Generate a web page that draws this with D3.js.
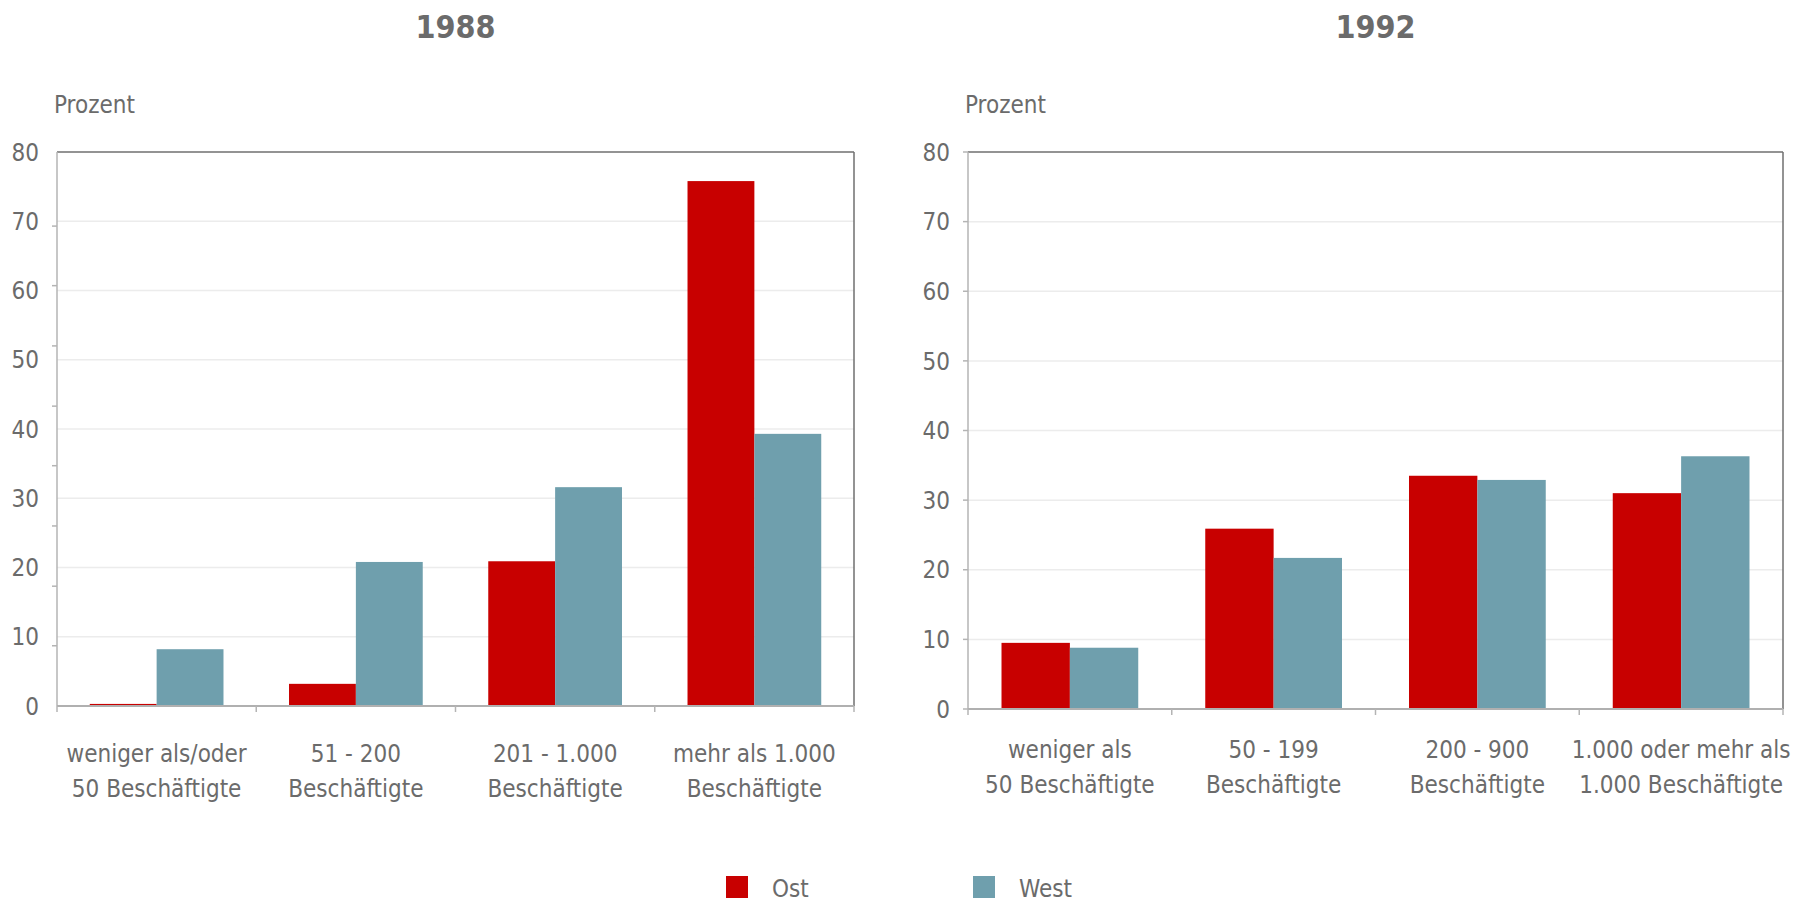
<!DOCTYPE html>
<html>
<head>
<meta charset="utf-8">
<script src="https://cdn.jsdelivr.net/npm/d3@7"></script>
<style>
  body { margin: 0; background: #fff; }
  text { font-family: "Liberation Sans Narrow", "DejaVu Sans Condensed", sans-serif; fill: #6b6b6b; }
</style>
</head>
<body>
<div id="chart"></div>
<script>
// data
var series = ["Ost", "West"];
var categories1988 = [["weniger als/oder", "50 Beschäftigte"], ["51 - 200", "Beschäftigte"], ["201 - 1.000", "Beschäftigte"], ["mehr als 1.000", "Beschäftigte"]];
var ost1988 = [0.3, 3.2, 20.9, 75.8];
var west1988 = [8.2, 20.8, 31.6, 39.3];
var categories1992 = [["weniger als", "50 Beschäftigte"], ["50 - 199", "Beschäftigte"], ["200 - 900", "Beschäftigte"], ["1.000 oder mehr als", "1.000 Beschäftigte"]];
var ost1992 = [9.5, 25.9, 33.5, 31.0];
var west1992 = [8.8, 21.7, 32.9, 36.3];
var yTicks = [0, 10, 20, 30, 40, 50, 60, 70, 80];
// the left panel's axis has its little tick marks off the grid
var yMarks1988 = [8.7, 17.3, 26, 34.7, 43.3, 52, 60.7, 69.3];

var WIDTH = 1793, HEIGHT = 904;
var color = d3.scaleOrdinal().domain(series).range(["#c80000", "#6f9fad"]);

var svg = d3.select("#chart").append("svg")
  .attr("width", WIDTH)
  .attr("height", HEIGHT);

function panel(opt) {
  var x = d3.scaleBand()
    .domain(d3.range(opt.cats.length))
    .range([opt.left, opt.right]);
  var xs = d3.scaleBand()
    .domain(series)
    .range([0, x.bandwidth()])
    .paddingOuter(0.49);
  var y = d3.scaleLinear().domain([0, 80]).range([opt.bottom, opt.top]);

  var g = svg.append("g");

  g.append("text")
    .attr("x", (opt.left + opt.right) / 2).attr("y", 38)
    .attr("text-anchor", "middle")
    .style("font-size", "32px").style("font-weight", "bold")
    .text(opt.title);

  g.append("text")
    .attr("x", opt.left - 3).attr("y", 113)
    .style("font-size", "24px")
    .text("Prozent");

  // grid
  g.selectAll(".grid").data(yTicks.slice(1, -1)).enter().append("line")
    .attr("x1", opt.left).attr("x2", opt.right)
    .attr("y1", function (d) { return y(d); })
    .attr("y2", function (d) { return y(d); })
    .style("stroke", "#ececec").style("stroke-width", 1.5);

  // y labels
  g.selectAll(".ylab").data(yTicks).enter().append("text")
    .attr("x", opt.left - 18)
    .attr("y", function (d) { return y(d); })
    .attr("dy", "0.36em")
    .attr("text-anchor", "end")
    .style("font-size", "24px")
    .text(function (d) { return d; });

  g.selectAll(".ymark").data(opt.marks).enter().append("line")
    .attr("x1", opt.left - 5).attr("x2", opt.left)
    .attr("y1", function (d) { return y(d); })
    .attr("y2", function (d) { return y(d); })
    .style("stroke", "#b4b4b4").style("stroke-width", 1.5);

  // bars
  var rows = opt.cats.map(function (c, i) {
    return { i: i, vals: [opt.ost[i], opt.west[i]] };
  });
  var grp = g.selectAll(".cat").data(rows).enter().append("g")
    .attr("transform", function (d) { return "translate(" + x(d.i) + ",0)"; });
  grp.selectAll("rect")
    .data(function (d) { return d.vals.map(function (v, k) { return { s: series[k], v: v }; }); })
    .enter().append("rect")
    .attr("x", function (d) { return xs(d.s); })
    .attr("width", xs.bandwidth())
    .attr("y", function (d) { return y(d.v); })
    .attr("height", function (d) { return y(0) - y(d.v); })
    .style("fill", function (d) { return color(d.s); });

  // frame
  g.append("line").attr("x1", opt.left).attr("x2", opt.right).attr("y1", opt.top).attr("y2", opt.top)
    .style("stroke", "#6f6f6f").style("stroke-width", 1.5);
  g.append("line").attr("x1", opt.right).attr("x2", opt.right).attr("y1", opt.top).attr("y2", opt.bottom)
    .style("stroke", "#6f6f6f").style("stroke-width", 1.5);
  g.append("line").attr("x1", opt.left).attr("x2", opt.left).attr("y1", opt.top).attr("y2", opt.bottom)
    .style("stroke", "#b4b4b4").style("stroke-width", 1.5);
  g.append("line").attr("x1", opt.left).attr("x2", opt.right).attr("y1", opt.bottom).attr("y2", opt.bottom)
    .style("stroke", "#b0b0b0").style("stroke-width", 2);

  // x ticks at band edges
  var edges = d3.range(opt.cats.length + 1).map(function (i) { return opt.left + i * x.step(); });
  g.selectAll(".xt").data(edges).enter().append("line")
    .attr("x1", function (d) { return d; }).attr("x2", function (d) { return d; })
    .attr("y1", opt.bottom).attr("y2", opt.bottom + 6)
    .style("stroke", "#b4b4b4").style("stroke-width", 1.5);

  // category labels
  var lab = g.selectAll(".xl").data(opt.cats).enter().append("text")
    .attr("text-anchor", "middle")
    .style("font-size", "24px");
  lab.selectAll("tspan").data(function (d, i) { return d.map(function (t) { return { t: t, i: i }; }); })
    .enter().append("tspan")
    .attr("x", function (d) { return x(d.i) + x.bandwidth() / 2; })
    .attr("y", function (d, k) { return opt.labelY + k * 35; })
    .text(function (d) { return d.t; });
}

panel({ title: "1988", cats: categories1988, ost: ost1988, west: west1988,
  left: 57, right: 854, top: 152, bottom: 706, labelY: 762, marks: yMarks1988 });
panel({ title: "1992", cats: categories1992, ost: ost1992, west: west1992,
  left: 968, right: 1783, top: 152, bottom: 709, labelY: 758, marks: yTicks });

// legend
var legX = d3.scaleOrdinal().domain(series).range([726, 973]);
var leg = svg.selectAll(".leg").data(series).enter().append("g")
  .attr("transform", function (d) { return "translate(" + legX(d) + ",876)"; });
leg.append("rect").attr("width", 22).attr("height", 22)
  .style("fill", function (d) { return color(d); });
leg.append("text").attr("x", 46).attr("y", 21)
  .style("font-size", "24px")
  .text(function (d) { return d; });
</script>
</body>
</html>
